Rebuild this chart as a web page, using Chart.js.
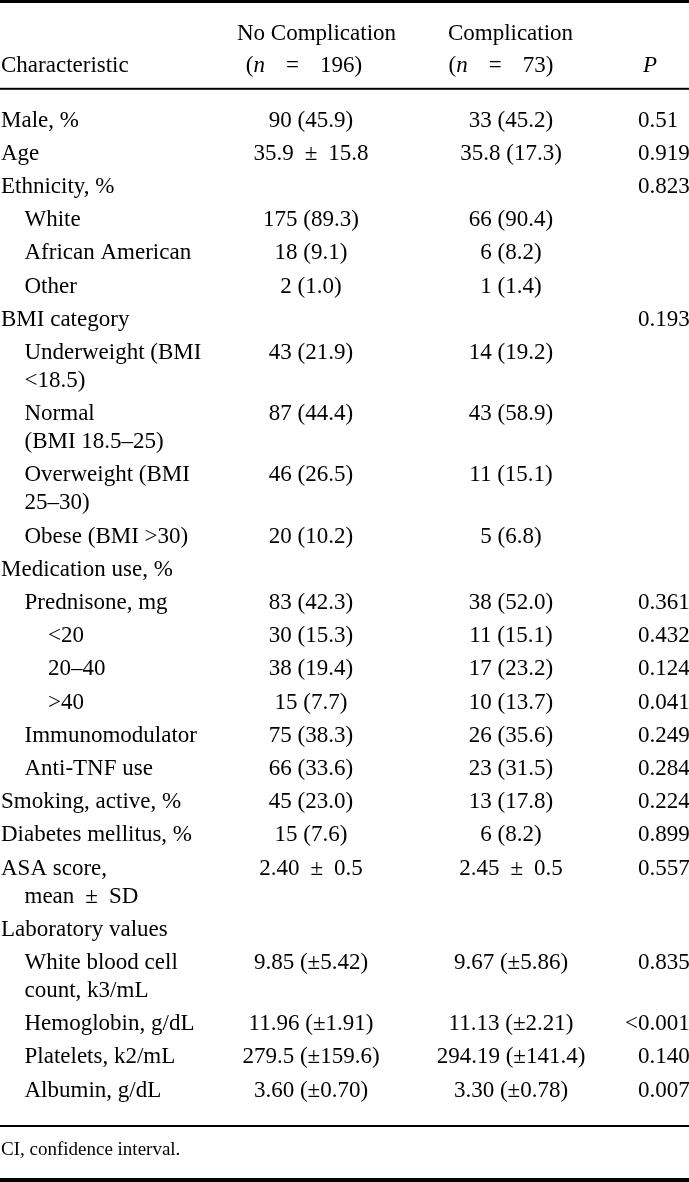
<!DOCTYPE html>
<html>
<head>
<meta charset="utf-8">
<title>Characteristics by complication</title>
<script src="https://cdn.jsdelivr.net/npm/chart.js@4.4.1/dist/chart.umd.min.js"></script>
<style>
  html, body { margin: 0; padding: 0; background: #fff; }
  canvas { display: block; }
</style>
</head>
<body>
<canvas id="myChart" width="689" height="1182"></canvas>
<script>
'use strict';

// table content
const firstColumnTitle = 'Characteristic';
const groupTitles = ['No Complication', 'Complication'];
const groupSizes = ['(*n* = 196)', '(*n* = 73)'];
const pTitle = '*P*';

const labels = [
  'Male, %', 'Age', 'Ethnicity, %', 'White', 'African American', 'Other',
  'BMI category', 'Underweight (BMI\n<18.5)', 'Normal\n(BMI 18.5–25)', 'Overweight (BMI\n25–30)', 'Obese (BMI >30)',
  'Medication use, %', 'Prednisone, mg', '<20', '20–40', '>40', 'Immunomodulator', 'Anti-TNF use',
  'Smoking, active, %', 'Diabetes mellitus, %', 'ASA score,\nmean ± SD', 'Laboratory values',
  'White blood cell\ncount, k3/mL', 'Hemoglobin, g/dL', 'Platelets, k2/mL', 'Albumin, g/dL'
];
const levels = [0, 0, 0, 1, 1, 1, 0, 1, 1, 1, 1, 0, 1, 2, 2, 2, 1, 1, 0, 0, 0, 0, 1, 1, 1, 1];

const noComplication = [
  '90 (45.9)', '35.9 ± 15.8', '', '175 (89.3)', '18 (9.1)', '2 (1.0)',
  '', '43 (21.9)', '87 (44.4)', '46 (26.5)', '20 (10.2)',
  '', '83 (42.3)', '30 (15.3)', '38 (19.4)', '15 (7.7)', '75 (38.3)', '66 (33.6)',
  '45 (23.0)', '15 (7.6)', '2.40 ± 0.5', '',
  '9.85 (±5.42)', '11.96 (±1.91)', '279.5 (±159.6)', '3.60 (±0.70)'
];
const complication = [
  '33 (45.2)', '35.8 (17.3)', '', '66 (90.4)', '6 (8.2)', '1 (1.4)',
  '', '14 (19.2)', '43 (58.9)', '11 (15.1)', '5 (6.8)',
  '', '38 (52.0)', '11 (15.1)', '17 (23.2)', '10 (13.7)', '26 (35.6)', '23 (31.5)',
  '13 (17.8)', '6 (8.2)', '2.45 ± 0.5', '',
  '9.67 (±5.86)', '11.13 (±2.21)', '294.19 (±141.4)', '3.30 (±0.78)'
];
const pValues = [
  '0.51', '0.919', '0.823', '', '', '',
  '0.193', '', '', '', '',
  '', '0.361', '0.432', '0.124', '0.041', '0.249', '0.284',
  '0.224', '0.899', '0.557', '',
  '0.835', '<0.001', '0.140', '0.007'
];
const footnote = 'CI, confidence interval.';

// layout
const FONT = '"Liberation Serif", "Times New Roman", serif';
const BODY_SIZE = 23;
const NOTE_SIZE = 19;
const FIRST_ROW = 119;
const ROW_STEP = 33.2;
const WRAP_STEP = 28;
const INDENT = 23.5;
const COL_X = [1, 311, 511, 638];

function rowPositions() {
  let ys = [];
  let y = FIRST_ROW;
  labels.forEach(l => {
    ys.push(y);
    y += ROW_STEP + WRAP_STEP * (l.split('\n').length - 1);
  });
  return ys;
}
const rowY = rowPositions();

function cellData(x) {
  return rowY.map(y => ({ x: x, y: y }));
}

// '*' toggles italics, spaces round = and ± get wider math spacing
function segments(str) {
  let segs = [];
  let italic = false;
  let buf = '';
  let s = str.replace(/ = /g, '\u0001=\u0001').replace(/ ± /g, '\u0002±\u0002');
  function flush() {
    if (buf) segs.push({ t: buf, it: italic });
    buf = '';
  }
  for (const ch of s) {
    if (ch === '*') { flush(); italic = !italic; }
    else if (ch === '\u0001') { flush(); segs.push({ gap: 21 }); }
    else if (ch === '\u0002') { flush(); segs.push({ gap: 11 }); }
    else buf += ch;
  }
  flush();
  return segs;
}

function drawRich(ctx, str, x, yMid, align, size) {
  let segs = segments(str);
  let total = 0;
  segs.forEach(sg => {
    if (sg.gap) { sg.w = sg.gap; }
    else {
      ctx.font = (sg.it ? 'italic ' : '') + size + 'px ' + FONT;
      sg.w = ctx.measureText(sg.t).width;
    }
    total += sg.w;
  });
  let start = x;
  if (align === 'center') start = x - total / 2;
  if (align === 'right') start = x - total;
  let base = yMid + size * 0.33;
  segs.forEach(sg => {
    if (!sg.gap) {
      ctx.font = (sg.it ? 'italic ' : '') + size + 'px ' + FONT;
      ctx.fillText(sg.t, start, base);
    }
    start += sg.w;
  });
}

const tablePlugin = {
  id: 'tableText',
  afterDatasetsDraw(chart) {
    const ctx = chart.ctx;
    const xs = chart.scales.x;
    const ys = chart.scales.y;
    ctx.save();
    ctx.fillStyle = '#000';
    ctx.textAlign = 'left';
    ctx.textBaseline = 'alphabetic';

    // rules
    const left = xs.getPixelForValue(0);
    const width = xs.getPixelForValue(689) - left;
    ctx.fillRect(left, ys.getPixelForValue(0), width, 3);
    ctx.fillRect(left, ys.getPixelForValue(87.8), width, 2);
    ctx.fillRect(left, ys.getPixelForValue(1125), width, 2);
    ctx.fillRect(left, ys.getPixelForValue(1178), width, 4);

    // header
    const h1 = ys.getPixelForValue(32.5);
    const h2 = ys.getPixelForValue(64);
    drawRich(ctx, firstColumnTitle, xs.getPixelForValue(1), h2, 'left', BODY_SIZE);
    drawRich(ctx, groupTitles[0], xs.getPixelForValue(316.5), h1, 'center', BODY_SIZE);
    drawRich(ctx, groupSizes[0], xs.getPixelForValue(304), h2, 'center', BODY_SIZE);
    drawRich(ctx, groupTitles[1], xs.getPixelForValue(510.5), h1, 'center', BODY_SIZE);
    drawRich(ctx, groupSizes[1], xs.getPixelForValue(501), h2, 'center', BODY_SIZE);
    drawRich(ctx, pTitle, xs.getPixelForValue(650), h2, 'center', BODY_SIZE);

    // body cells, placed on the points the scatter datasets put down
    chart.data.datasets.forEach((ds, d) => {
      const meta = chart.getDatasetMeta(d);
      meta.data.forEach((pt, i) => {
        const txt = ds.cells[i];
        if (!txt) return;
        if (d === 0) {
          txt.split('\n').forEach((line, k) => {
            const lvl = k === 0 ? levels[i] : Math.max(levels[i], 1);
            const yy = pt.y + k * (ys.getPixelForValue(WRAP_STEP) - ys.getPixelForValue(0));
            drawRich(ctx, line, pt.x + lvl * INDENT, yy, 'left', BODY_SIZE);
          });
        } else if (d === 3) {
          let x = pt.x;
          if (txt[0] === '<') {
            ctx.font = BODY_SIZE + 'px ' + FONT;
            x -= ctx.measureText('<').width;
          }
          drawRich(ctx, txt, x, pt.y, 'left', BODY_SIZE);
        } else {
          drawRich(ctx, txt, pt.x, pt.y, 'center', BODY_SIZE);
        }
      });
    });

    // footnote
    drawRich(ctx, footnote, xs.getPixelForValue(1), ys.getPixelForValue(1148.5), 'left', NOTE_SIZE);
    ctx.restore();
  }
};

const columns = [labels, noComplication, complication, pValues];

let canvasElem = document.getElementById('myChart').getContext('2d');

new Chart(canvasElem, {
  type: 'scatter',
  data: {
    datasets: columns.map((col, c) => ({
      label: c === 0 ? firstColumnTitle : (c === 3 ? 'P' : groupTitles[c - 1]),
      data: cellData(COL_X[c]),
      cells: col,
      pointRadius: 0,
      pointHoverRadius: 0
    }))
  },
  options: {
    responsive: false,
    animation: false,
    events: [],
    layout: { padding: 0 },
    plugins: {
      legend: { display: false },
      tooltip: { enabled: false }
    },
    scales: {
      x: { type: 'linear', min: 0, max: 689, display: false },
      y: { type: 'linear', min: 0, max: 1182, reverse: true, display: false }
    }
  },
  plugins: [tablePlugin]
});
</script>
</body>
</html>
